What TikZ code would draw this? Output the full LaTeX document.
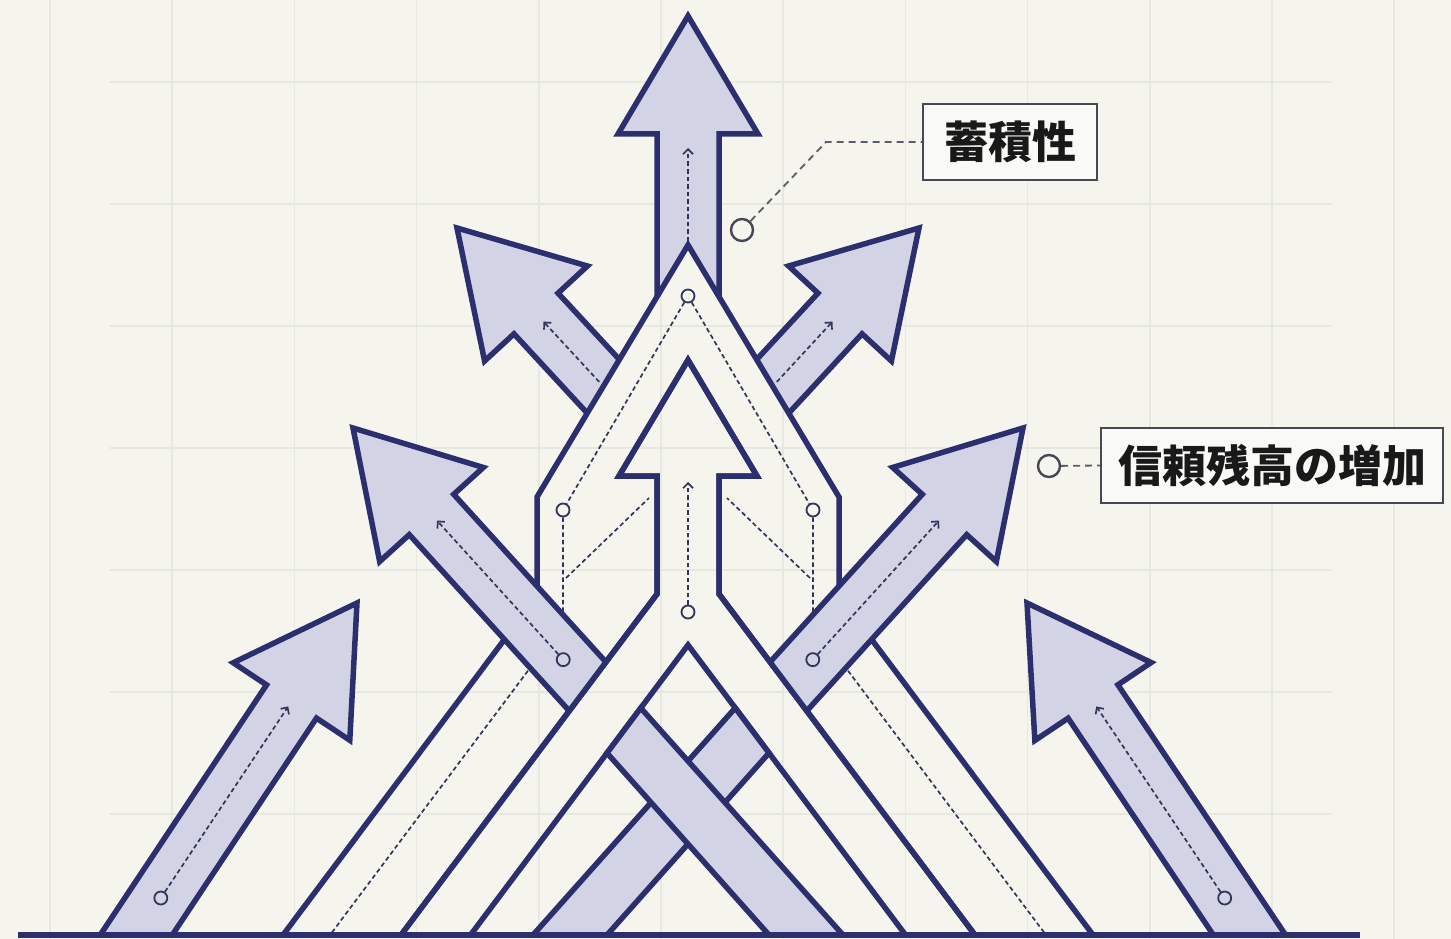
\documentclass[tikz,border=0pt]{standalone}
\usepackage{fontspec}
\newfontfamily\cjk{Noto Sans CJK JP}
\usetikzlibrary{calc,arrows.meta}
\definecolor{bgc}{RGB}{245,245,238}
\definecolor{gridc}{RGB}{230,233,226}
\definecolor{navy}{RGB}{44,47,110}
\definecolor{lav}{RGB}{211,211,230}
\definecolor{dashc}{RGB}{50,53,90}
\definecolor{boxc}{RGB}{70,72,85}
\definecolor{boxf}{RGB}{249,249,245}
\definecolor{txtc}{RGB}{25,25,25}
\definecolor{leadc}{RGB}{90,92,105}
\tikzset{
  gridl/.style={draw=gridc, line width=1.6pt},
  outl/.style={draw=navy, line width=5.5pt, line join=miter},
  lavarrow/.style={fill=lav, draw=navy, line width=5.5pt, line join=miter},
  lavband/.style={fill=lav, draw=navy, line width=5.5pt, line join=miter},
  dashl/.style={draw=dashc, line width=1.7pt, dash pattern=on 4.5pt off 3pt},
  dtip/.style={-{Straight Barb[length=5pt,width=10pt]}},
  smallc/.style={circle, draw=dashc, line width=1.8pt, minimum size=13pt, inner sep=0pt},
  bigc/.style={circle, draw=boxc, line width=2.4pt, minimum size=22pt, inner sep=0pt},
  leader/.style={draw=leadc, line width=1.8pt, dash pattern=on 7pt off 5pt},
  callbox/.style={draw=boxc, line width=2.2pt, fill=boxf, text=txtc, inner sep=0pt,
    font=\cjk\bfseries\fontsize{44}{50}\selectfont}
}
% #1 head-base centre, #2 tip, #3 tail factor, #4 head half width, #5 shaft half width
\newcommand\fatarrow[5]{%
  \coordinate (faS) at ($(#1)!-#3!(#2)$);
  \path[lavarrow] ($(faS)!#5!90:(#1)$) -- ($(#1)!#5!90:(#2)$) -- ($(#1)!#4!90:(#2)$)
    -- (#2) -- ($(#1)!#4!-90:(#2)$) -- ($(#1)!#5!-90:(#2)$) -- ($(faS)!#5!-90:(#1)$) -- cycle;
}
\begin{document}
\begin{tikzpicture}[x=1pt,y=-1pt]
\useasboundingbox (0,0) rectangle (1451,939);
\fill[bgc] (0,0) rectangle (1451,939);
% grid
\foreach \i in {0,...,11} \draw[gridl] ({50+122.2*\i},0) -- ({50+122.2*\i},939);
\foreach \j in {0,...,6} \draw[gridl] (110,{82+122*\j}) -- (1332,{82+122*\j});

\begin{scope}
\clip (-10,-10) rectangle (1461,935);
  % upper arrows, behind the chevron band
  \begin{scope}
    \clip (-100,-100) -- (1500,-100) -- (1500,497) -- (839,497) -- (688,245) -- (537,497) -- (-100,497) -- cycle;
    \fatarrow{688,134}{688,16}{2}{70pt}{31pt}
    \fatarrow{536,313.5}{457,228}{1.4}{70pt}{30pt}
    \fatarrow{840,313.5}{919,228}{1.4}{70pt}{30pt}
  \end{scope}
  % outer band
  \draw[outl] (283,935) -- (537,596) -- (537,497) -- (688,245) -- (839,497) -- (839,596) -- (1093,935);
  \draw[outl] (401,935) -- (657,594) -- (657,476) -- (619,476) -- (688,360) -- (757,476) -- (719,476) -- (719,594) -- (975,935);
  % dashed guides in band
  \node[smallc] (c0) at (688,296) {};
  \node[smallc] (c1) at (563,510) {};
  \node[smallc] (c2) at (813,510) {};
  \draw[dashl] (c0) -- (c1);
  \draw[dashl] (c0) -- (c2);
  \draw[dashl] (c1) -- (563,624) -- (330,935);
  \draw[dashl] (c2) -- (813,624) -- (1046,935);
  \draw[dashl] (566,578) -- (649,498);
  \draw[dashl] (810,578) -- (727,498);
  % big side arrows, on top of the band
  \begin{scope}
    \clip (1017,114) -- (297,1074) -- (-100,1074) -- (-100,-100) -- (1017,-100) -- cycle;
    \fatarrow{431.5,514.5}{353,428}{2.3}{70pt}{30pt}
  \end{scope}
  \begin{scope}
    \clip (359,114) -- (1079,1074) -- (1551,1074) -- (1551,-100) -- (359,-100) -- cycle;
    \fatarrow{944.5,514.5}{1023,428}{2.3}{70pt}{30pt}
  \end{scope}
  \draw[outl] (401,935) -- (657,594) -- (657,476) -- (619,476) -- (688,360) -- (757,476) -- (719,476) -- (719,594) -- (975,935);
  % inner chevron with woven bands
  \draw[outl] (470.5,935) -- (688,645) -- (905.5,935);
  \path[lavband] (533,935) -- (735.25,708) -- (769,753) -- (607,935) -- cycle;
  \path[lavband] (640.75,708) -- (843,935) -- (769,935) -- (607,753) -- cycle;
  % bottom arrows
  \fatarrow{291.5,701.5}{357,603}{2.7}{70pt}{30pt}
  \fatarrow{1093,701.5}{1027,603}{2.7}{70pt}{30pt}
\end{scope}

% dashed guides inside arrows
\draw[dashl, dtip] (688,241) -- (688,148);
\draw[dashl, dtip] ($(536,313.5)!-0.80!(457,228)$) -- ($(536,313.5)!-0.095!(457,228)$);
\draw[dashl, dtip] ($(840,313.5)!-0.80!(919,228)$) -- ($(840,313.5)!-0.095!(919,228)$);
\node[smallc] (d1) at ($(431.5,514.5)!-1.678!(353,428)$) {};
\draw[dashl, dtip] (d1) -- ($(431.5,514.5)!-0.07!(353,428)$);
\node[smallc] (d2) at ($(944.5,514.5)!-1.678!(1023,428)$) {};
\draw[dashl, dtip] (d2) -- ($(944.5,514.5)!-0.07!(1023,428)$);
\node[smallc] (d3) at ($(291.5,701.5)!-1.995!(357,603)$) {};
\draw[dashl, dtip] (d3) -- ($(291.5,701.5)!-0.05!(357,603)$);
\node[smallc] (d4) at ($(1093,701.5)!-1.995!(1027,603)$) {};
\draw[dashl, dtip] (d4) -- ($(1093,701.5)!-0.05!(1027,603)$);
\node[smallc] (d5) at (688,612) {};
\draw[dashl, dtip] (d5) -- (688,482);

% baseline
\draw[navy, line width=6pt] (18,935) -- (1360,935);

% callouts
\node[callbox, minimum width=174pt, minimum height=76pt] (b1) at (1010,142) {蓄積性};
\node[bigc] (k1) at (742,230) {};
\draw[leader] (k1) -- (826,142) -- (b1.west);
\node[callbox, minimum width=342pt, minimum height=75pt] (b2) at (1272,465.5) {信頼残高の増加};
\node[bigc] (k2) at (1049,466) {};
\draw[leader] (k2) -- (b2.west);
\end{tikzpicture}
\end{document}
